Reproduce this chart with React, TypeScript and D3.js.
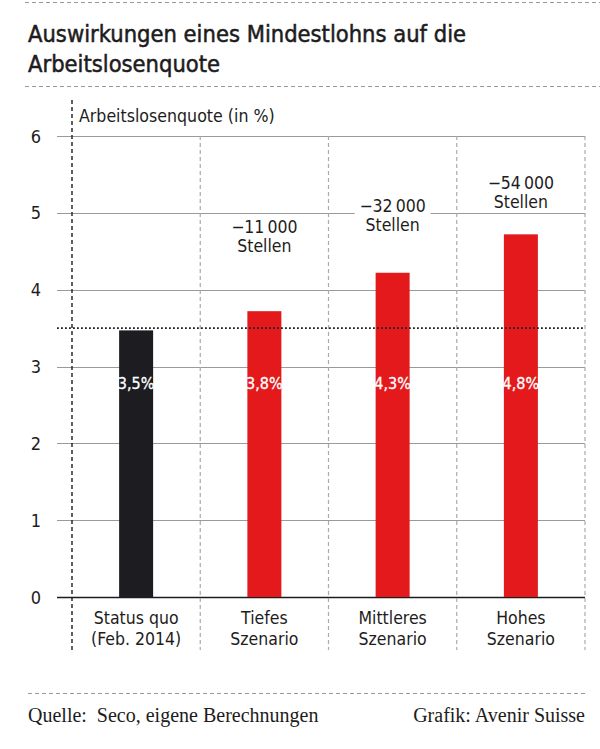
import React from "react";
import * as d3 from "d3";

const categories: string[][] = [
  ["Status quo", "(Feb. 2014)"],
  ["Tiefes", "Szenario"],
  ["Mittleres", "Szenario"],
  ["Hohes", "Szenario"],
];
const values: number[] = [3.47, 3.72, 4.22, 4.72];
const valueLabels: string[] = ["3,5%", "3,8%", "4,3%", "4,8%"];
const annotations: (string[] | null)[] = [
  null,
  ["\u221211\u2009000", "Stellen"],
  ["\u221232\u2009000", "Stellen"],
  ["\u221254\u2009000", "Stellen"],
];
const annotationAt: number[] = [0, 4.49, 4.77, 5.06];
const yTicks: number[] = [0, 1, 2, 3, 4, 5, 6];
const referenceValue = 3.5;
const barColors: string[] = ["#1d1c20", "#e3191b", "#e3191b", "#e3191b"];

const W = 600;
const H = 749;
const SANS = "'DejaVu Sans Condensed', 'Liberation Sans Narrow', sans-serif";
const SERIF = "'Liberation Serif', 'DejaVu Serif', serif";

export default function App() {
  const x = d3
    .scaleBand<number>()
    .domain(d3.range(categories.length))
    .range([72, 585])
    .paddingInner(0)
    .paddingOuter(0);
  const y = d3.scaleLinear().domain([0, 6]).range([597, 136]);
  const barW = 34;
  const gridX0 = 57;
  const gridX1 = 585;

  return (
    <svg
      width={W}
      height={H}
      style={{ position: "absolute", left: 0, top: 0, background: "#fff" }}
    >
      <rect width={W} height={H} fill="#fff" />
      {/* top dashed rules */}
      <line x1={25} x2={600} y1={2.5} y2={2.5} stroke="#999" strokeWidth={1} strokeDasharray="4 3" />
      <text x={28} y={42} fontFamily={SANS} fontSize={23.5} fill="#1d1c20" stroke="#1d1c20" strokeWidth={0.5}>
        Auswirkungen eines Mindestlohns auf die
      </text>
      <text x={28} y={72} fontFamily={SANS} fontSize={23.5} fill="#1d1c20" stroke="#1d1c20" strokeWidth={0.5}>
        Arbeitslosenquote
      </text>
      <line x1={25} x2={600} y1={86.5} y2={86.5} stroke="#999" strokeWidth={1} strokeDasharray="4 3" />

      {/* gridlines */}
      {yTicks.map((t) => (
        <line
          key={"g" + t}
          x1={gridX0}
          x2={gridX1}
          y1={Math.round(y(t)) + 0.5}
          y2={Math.round(y(t)) + 0.5}
          stroke={t === 0 ? "#1d1c20" : "#9a9a9a"}
          strokeWidth={t === 0 ? 1.6 : 1.2}
        />
      ))}
      {yTicks.map((t) => (
        <text
          key={"t" + t}
          x={41}
          y={y(t) + 6.5}
          textAnchor="end"
          fontFamily={SANS}
          fontSize={18}
          fill="#1d1c20"
        >
          {t}
        </text>
      ))}

      {/* column separators */}
      {d3.range(1, categories.length + 1).map((i) => {
        const xx = i < categories.length ? x(i)! : gridX1;
        return (
          <line
            key={"s" + i}
            x1={xx}
            x2={xx}
            y1={y(6)}
            y2={650}
            stroke="#aaa"
            strokeWidth={1.2}
            strokeDasharray="4 3"
          />
        );
      })}

      {/* annotations with white background */}
      {annotations.map((a, i) =>
        a ? (
          <g key={"a" + i}>
            <rect
              x={x(i)! + x.bandwidth() / 2 - 38}
              y={y(annotationAt[i]) - 35}
              width={76}
              height={38}
              fill="#fff"
            />
            <text
              x={x(i)! + x.bandwidth() / 2}
              y={y(annotationAt[i]) - 19}
              textAnchor="middle"
              fontFamily={SANS}
              fontSize={17.5}
              fill="#1d1c20"
            >
              {a[0]}
            </text>
            <text
              x={x(i)! + x.bandwidth() / 2}
              y={y(annotationAt[i])}
              textAnchor="middle"
              fontFamily={SANS}
              fontSize={17.5}
              fill="#1d1c20"
            >
              {a[1]}
            </text>
          </g>
        ) : null
      )}

      {/* bars */}
      {values.map((v, i) => (
        <rect
          key={"b" + i}
          x={x(i)! + x.bandwidth() / 2 - barW / 2}
          y={y(v)}
          width={barW}
          height={y(0) - y(v)}
          fill={barColors[i]}
        />
      ))}
      {valueLabels.map((l, i) => (
        <text
          key={"v" + i}
          x={x(i)! + x.bandwidth() / 2}
          y={389}
          textAnchor="middle"
          fontFamily={SANS}
          fontSize={16}
          fill="#fff"
          stroke="#fff"
          strokeWidth={0.3}
        >
          {l}
        </text>
      ))}

      {/* reference dotted line */}
      <line
        x1={gridX0}
        x2={gridX1}
        y1={y(referenceValue)}
        y2={y(referenceValue)}
        stroke="#1d1c20"
        strokeWidth={1.8}
        strokeDasharray="1.8 2.2"
      />

      {/* left dashed axis */}
      <line x1={72} x2={72} y1={100} y2={650} stroke="#1d1c20" strokeWidth={1.4} strokeDasharray="4 3" />
      <text x={79} y={122} fontFamily={SANS} fontSize={17.6} fill="#1d1c20">
        Arbeitslosenquote (in %)
      </text>

      {/* category labels */}
      {categories.map((c, i) => (
        <g key={"c" + i}>
          {c.map((line, j) => (
            <text
              key={j}
              x={x(i)! + x.bandwidth() / 2}
              y={624 + j * 21}
              textAnchor="middle"
              fontFamily={SANS}
              fontSize={17.5}
              fill="#1d1c20"
            >
              {line}
            </text>
          ))}
        </g>
      ))}

      {/* footer */}
      <line x1={28} x2={585} y1={693.5} y2={693.5} stroke="#999" strokeWidth={1} strokeDasharray="4 3" />
      <text x={28} y={722} fontFamily={SERIF} fontSize={20} fill="#1d1c20" xmlSpace="preserve">
        Quelle:  Seco, eigene Berechnungen
      </text>
      <text x={585} y={722} textAnchor="end" fontFamily={SERIF} fontSize={20} fill="#1d1c20">
        Grafik: Avenir Suisse
      </text>
    </svg>
  );
}
